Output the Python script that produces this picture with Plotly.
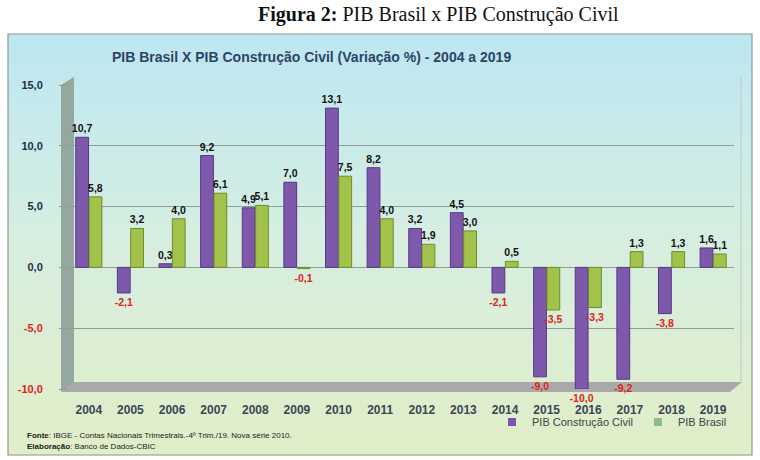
import plotly.graph_objects as go

years = ["2004", "2005", "2006", "2007", "2008", "2009", "2010", "2011",
         "2012", "2013", "2014", "2015", "2016", "2017", "2018", "2019"]
pib_construcao = [10.7, -2.1, 0.3, 9.2, 4.9, 7.0, 13.1, 8.2, 3.2, 4.5, -2.1, -9.0, -10.0, -9.2, -3.8, 1.6]
pib_brasil = [5.8, 3.2, 4.0, 6.1, 5.1, -0.1, 7.5, 4.0, 1.9, 3.0, 0.5, -3.5, -3.3, 1.3, 1.3, 1.1]
y_ticks = [-10, -5, 0, 5, 10, 15]
y_ticktext = ["<b><span style='color:#e0231c'>-10,0</span></b>",
              "<b><span style='color:#e0231c'>-5,0</span></b>",
              "<b>0,0</b>", "<b>5,0</b>", "<b>10,0</b>", "<b>15,0</b>"]

W, H = 760, 460
L, R, T, B = 68, 734, 85, 389  # plot area in window pixels


def px(x):
    return (x - L) / (R - L)


def py(y):
    return (B - y) / (B - T)


def lbl_colors(vals):
    return ["#e0231c" if v < 0 else "#111111" for v in vals]


fig = go.Figure()
fig.add_bar(x=years, y=pib_construcao, name="PIB Construção Civil", showlegend=False,
            marker=dict(color="#7e58aa", line=dict(color="#563785", width=1)),
            texttemplate="<b>%{y:.1f}</b>", textposition="outside", constraintext="none",
            textfont=dict(color=lbl_colors(pib_construcao), size=10.5, family="Liberation Sans"),
            cliponaxis=False)
fig.add_bar(x=years, y=pib_brasil, name="PIB Brasil", showlegend=False,
            marker=dict(color="#a3c24c", line=dict(color="#6a8f2c", width=1)),
            texttemplate="<b>%{y:.1f}</b>", textposition="outside", constraintext="none",
            textfont=dict(color=lbl_colors(pib_brasil), size=10.5, family="Liberation Sans"),
            cliponaxis=False)
# legend entries (small square swatches)
fig.add_scatter(x=[None], y=[None], mode="markers", name="PIB Construção Civil",
                marker=dict(symbol="square", size=8, color="#7a52b0"))
fig.add_scatter(x=[None], y=[None], mode="markers", name="PIB Brasil",
                marker=dict(symbol="square", size=8, color="#8fbc84"))

shapes = []
top_c = (189, 231, 242)
mid_c = (215, 239, 224)
bot_c = (225, 238, 200)
y0p, y1p = 34, 455
N = 70
for i in range(N):
    f = i / (N - 1)
    if f < 0.5:
        g = f / 0.5
        c = tuple(int(top_c[k] + (mid_c[k] - top_c[k]) * g) for k in range(3))
    else:
        g = (f - 0.5) / 0.5
        c = tuple(int(mid_c[k] + (bot_c[k] - mid_c[k]) * g) for k in range(3))
    ya = y0p + (y1p - y0p) * i / N
    yb = y0p + (y1p - y0p) * (i + 1) / N + 0.6
    shapes.append(dict(type="rect", xref="paper", yref="paper", layer="below",
                       x0=px(8), x1=px(752), y0=py(yb), y1=py(ya),
                       line=dict(width=0), fillcolor="rgb(%d,%d,%d)" % c))
shapes.append(dict(type="rect", xref="paper", yref="paper", layer="below",
                   x0=px(8), x1=px(752), y0=py(455), y1=py(34),
                   line=dict(width=1.2, color="#8c9c8c"), fillcolor="rgba(0,0,0,0)"))
# left wall
shapes.append(dict(type="path", xref="paper", yref="paper", layer="below",
                   path="M %f,%f L %f,%f L %f,%f L %f,%f Z" % (
                       px(61), py(392), px(61), py(85), px(74), py(77), px(74), py(383)),
                   line=dict(width=0), fillcolor="#95a8a0"))
# floor
shapes.append(dict(type="path", xref="paper", yref="paper", layer="below",
                   path="M %f,%f L %f,%f L %f,%f L %f,%f Z" % (
                       px(61), py(392), px(74), py(382), px(742), py(382), px(730), py(392)),
                   line=dict(width=0), fillcolor="#a9a9a9"))
shapes.append(dict(type="line", xref="paper", yref="paper", layer="below",
                   x0=px(741), x1=px(741), y0=py(382), y1=py(77),
                   line=dict(width=1, color="#b9c9c9")))

annotations = [
    dict(text="<b>Figura 2:</b> PIB Brasil x PIB Construção Civil", xref="paper", yref="paper",
         x=px(438), y=py(15), showarrow=False, xanchor="center", yanchor="middle",
         font=dict(family="Liberation Serif", size=20, color="#111111")),
    dict(text="<b>PIB Brasil X PIB Construção Civil (Variação %) - 2004 a 2019</b>", xref="paper", yref="paper",
         x=px(311), y=py(57), showarrow=False, xanchor="center", yanchor="middle",
         font=dict(family="Liberation Sans Narrow, Liberation Sans", size=14, color="#2e4466")),
    dict(text="<b>Fonte</b>: IBGE - Contas Nacionais Trimestrais.-4º Trim./19. Nova série 2010.",
         xref="paper", yref="paper", x=px(25), y=py(435), showarrow=False,
         xanchor="left", yanchor="middle", font=dict(family="Liberation Sans", size=8, color="#222222")),
    dict(text="<b>Elaboração</b>: Banco de Dados-CBIC",
         xref="paper", yref="paper", x=px(25), y=py(446), showarrow=False,
         xanchor="left", yanchor="middle", font=dict(family="Liberation Sans", size=8, color="#222222")),
]

fig.update_layout(
    width=W, height=H,
    margin=dict(l=L, r=W - R, t=T, b=H - B, pad=0),
    paper_bgcolor="white", plot_bgcolor="rgba(0,0,0,0)",
    separators=",.",
    barmode="group", bargap=0.36, bargroupgap=0.04,
    shapes=shapes, annotations=annotations,
    font=dict(family="Liberation Sans"),
    legend=dict(orientation="h", x=px(732), xanchor="right", y=py(422), yanchor="middle",
                bgcolor="rgba(0,0,0,0)", font=dict(size=11, color="#444444"),
                itemwidth=30, tracegroupgap=0),
    xaxis=dict(showgrid=False, zeroline=False, showline=False,
               tickfont=dict(size=12, color="#3a4654", family="Liberation Sans"),
               tickprefix="<b>", ticksuffix="</b>", ticklabelstandoff=12),
    yaxis=dict(range=[-10, 15], tickvals=y_ticks, ticktext=y_ticktext,
               showgrid=True, gridcolor="#8e9c9a", gridwidth=1.3,
               zeroline=True, zerolinecolor="#8e9c9a", zerolinewidth=1.3,
               ticks="outside", ticklen=8, tickcolor="#8e9c9a",
               tickfont=dict(size=11, color="#1e2e50", family="Liberation Sans"),
               ticklabelstandoff=14),
)

fig.write_html("out.html", config={"displayModeBar": False},
               post_script="document.body.style.margin='0px';document.body.style.padding='0px';")
